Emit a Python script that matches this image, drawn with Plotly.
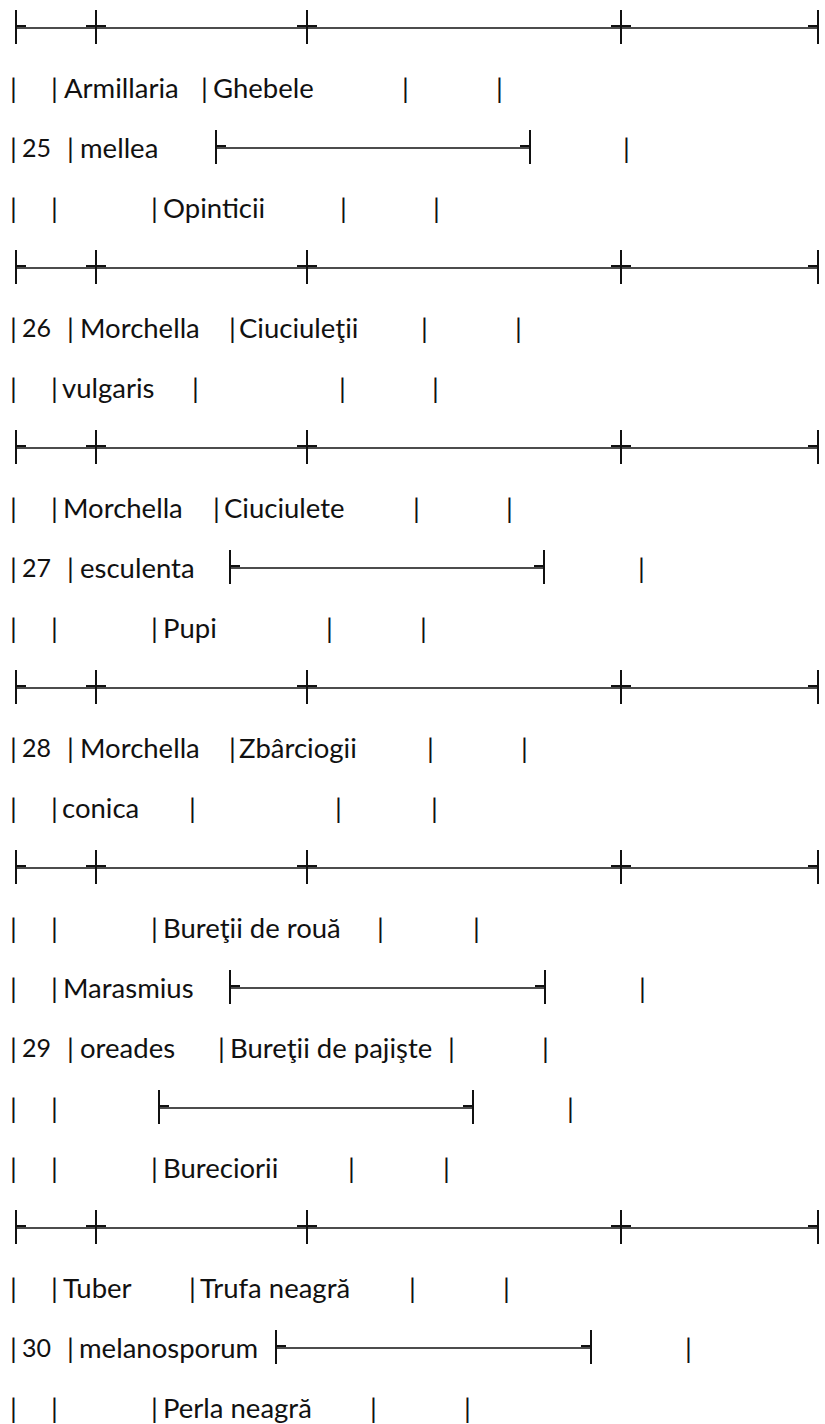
import plotly.graph_objects as go

# ---------------- data (table content) ----------------
numbers = ["25", "26", "27", "28", "29", "30"]
latin_genus = ["Armillaria", "Morchella", "Morchella", "Morchella", "Marasmius", "Tuber"]
latin_species = ["mellea", "vulgaris", "esculenta", "conica", "oreades", "melanosporum"]
common_names = [
    ["Ghebele", "Opinticii"],
    ["Ciuciuleţii"],
    ["Ciuciulete", "Pupi"],
    ["Zbârciogii"],
    ["Bureţii de rouă", "Bureţii de pajişte", "Bureciorii"],
    ["Trufa neagră", "Perla neagră"],
]

# ---------------- layout (where each cell of the text table sits) ----------------
W, H = 825, 1424
TOP, LINE_H = 27, 60
TICK = 17
SEP_X = [16, 96, 307, 621, 818]
FONT = dict(family="Lato, 'Open Sans', sans-serif", size=27.5, color="#111111")
NUM_FONT = dict(family="Lato, 'Open Sans', sans-serif", size=25, color="#111111")

# token kinds: ("bar", x) ("num", x) ("genus", x) ("species", x) ("common", k, x) ("box", x1, x2)
block_layouts = [
    [  # 25
        [("bar", 13), ("bar", 54), ("genus", 63), ("bar", 204), ("common", 0, 212), ("bar", 405), ("bar", 499)],
        [("bar", 13), ("num", 21), ("bar", 70), ("species", 79), ("box", 216, 530), ("bar", 626)],
        [("bar", 13), ("bar", 54), ("bar", 154), ("common", 1, 162), ("bar", 343), ("bar", 436)],
    ],
    [  # 26
        [("bar", 13), ("num", 21), ("bar", 70), ("genus", 79), ("bar", 232), ("common", 0, 238), ("bar", 424), ("bar", 518)],
        [("bar", 13), ("bar", 54), ("species", 61), ("bar", 195), ("bar", 342), ("bar", 435)],
    ],
    [  # 27
        [("bar", 13), ("bar", 54), ("genus", 62), ("bar", 216), ("common", 0, 223), ("bar", 416), ("bar", 509)],
        [("bar", 13), ("num", 21), ("bar", 70), ("species", 79), ("box", 230, 544), ("bar", 641)],
        [("bar", 13), ("bar", 54), ("bar", 154), ("common", 1, 162), ("bar", 329), ("bar", 423)],
    ],
    [  # 28
        [("bar", 13), ("num", 21), ("bar", 70), ("genus", 79), ("bar", 232), ("common", 0, 238), ("bar", 430), ("bar", 524)],
        [("bar", 13), ("bar", 54), ("species", 61), ("bar", 192), ("bar", 338), ("bar", 434)],
    ],
    [  # 29
        [("bar", 13), ("bar", 54), ("bar", 154), ("common", 0, 162), ("bar", 380), ("bar", 476)],
        [("bar", 13), ("bar", 54), ("genus", 62), ("box", 230, 545), ("bar", 642)],
        [("bar", 13), ("num", 21), ("bar", 70), ("species", 79), ("bar", 221), ("common", 1, 229), ("bar", 451), ("bar", 545)],
        [("bar", 13), ("bar", 54), ("box", 159, 473), ("bar", 570)],
        [("bar", 13), ("bar", 54), ("bar", 154), ("common", 2, 162), ("bar", 351), ("bar", 446)],
    ],
    [  # 30
        [("bar", 13), ("bar", 54), ("genus", 62), ("bar", 192), ("common", 0, 199), ("bar", 412), ("bar", 506)],
        [("bar", 13), ("num", 21), ("bar", 70), ("species", 78), ("box", 276, 591), ("bar", 688)],
        [("bar", 13), ("bar", 54), ("bar", 154), ("common", 1, 162), ("bar", 373), ("bar", 467)],
    ],
]

# ---------------- build ----------------
lines = []
for b, blk in enumerate(block_layouts):
    lines.append(("sep", None))
    for ln in blk:
        lines.append((b, ln))

annotations = []
shapes = []
INK = "#111111"


def seg(x0, x1, y0, y1, w=2):
    shapes.append(dict(type="line", xref="x", yref="y", x0=x0, x1=x1, y0=y0, y1=y1,
                       line=dict(color=INK, width=w)))


def vtick(x, y):
    seg(x, x, y - TICK, y + TICK, 2)


def rule(x_points, y):
    # thin box-drawing run, with slightly raised heavier stubs next to each joint
    seg(x_points[0], x_points[-1], y + 1, y + 1, 1.5)
    for k, x in enumerate(x_points):
        left = x - 10 if k > 0 else x
        right = x + 10 if k < len(x_points) - 1 else x
        seg(left, right, y - 1, y - 1, 2)
        vtick(x, y)


def text(s, x, y, anchor="left", font=FONT):
    annotations.append(dict(x=x, y=y, xref="x", yref="y", text=s, showarrow=False,
                            xanchor=anchor, yanchor="middle", font=font, borderpad=0))


for i, (b, ln) in enumerate(lines):
    y = TOP + LINE_H * i
    if b == "sep":
        rule(SEP_X, y)
        continue
    for tok in ln:
        kind = tok[0]
        if kind == "bar":
            text("|", tok[1], y, anchor="center")
        elif kind == "num":
            text(numbers[b], tok[1], y, font=NUM_FONT)
        elif kind == "genus":
            text(latin_genus[b], tok[1], y)
        elif kind == "species":
            text(latin_species[b], tok[1], y)
        elif kind == "common":
            text(common_names[b][tok[1]], tok[2], y)
        elif kind == "box":
            rule([tok[1], tok[2]], y)

fig = go.Figure()
fig.add_trace(go.Scatter(x=[0, W], y=[0, H], mode="markers",
                         marker=dict(opacity=0), hoverinfo="skip", showlegend=False))
fig.update_layout(
    width=W, height=H, margin=dict(l=0, r=0, t=0, b=0),
    paper_bgcolor="#ffffff", plot_bgcolor="#ffffff",
    xaxis=dict(range=[0, W], visible=False, fixedrange=True),
    yaxis=dict(range=[H, 0], visible=False, fixedrange=True),
    annotations=annotations, shapes=shapes, showlegend=False,
)
fig.write_html(
    "out.html",
    config={"displayModeBar": False},
    post_script="document.body.style.margin='0';document.body.style.overflow='hidden';",
)
